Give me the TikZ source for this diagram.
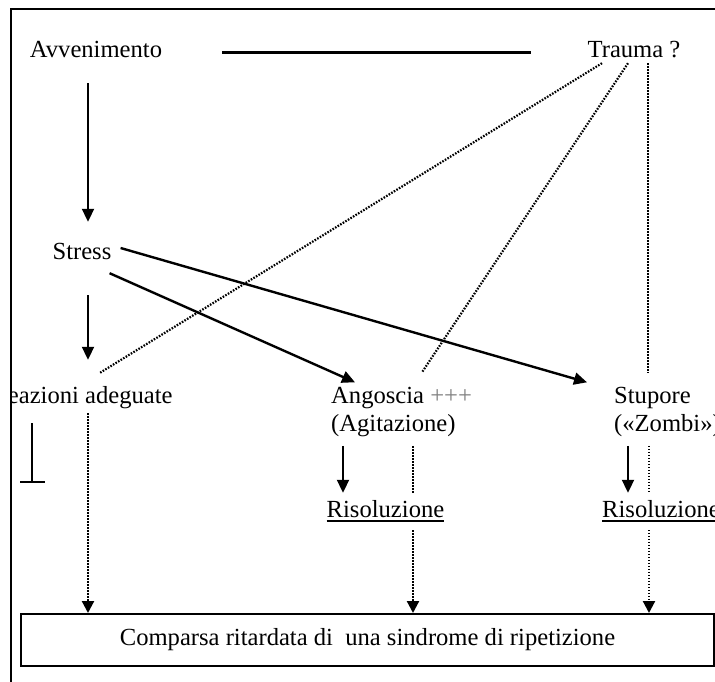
\documentclass[tikz,border=0pt]{standalone}
\usepackage{fontspec}
\setmainfont{Liberation Serif}
\usetikzlibrary{arrows.meta,backgrounds}
\definecolor{plusgray}{HTML}{808080}

\newcommand{\risline}[1]{\vtop{\hbox{#1}\kern3pt\hrule height 2pt}}

\begin{document}
\begin{tikzpicture}[
  x=1pt, y=-1pt,
  lbl/.style={font=\fontsize{24.6pt}{28pt}\selectfont, inner sep=0pt,
              text height=16pt, text depth=5pt, anchor=base},
  twoline/.style={font=\fontsize{24.6pt}{28pt}\selectfont, inner sep=0pt,
              align=left, anchor=north west},
  ris/.style={lbl, fill=white, inner ysep=8pt},
  outcome/.style={draw, line width=2pt, font=\fontsize{24.6pt}{28pt}\selectfont,
              text height=16pt, text depth=5pt, minimum width=693pt, minimum height=52pt},
  arr/.style={-{Triangle[length=13pt,width=12pt]}, line width=2pt},
  dotline/.style={line width=2.2pt, dash pattern=on 1.6pt off 1.4pt},
  darr/.style={dotline, -{Triangle[length=12pt,width=12pt]}}
]
  \useasboundingbox (0,0) rectangle (715,682);
  \draw[line width=1.5pt] (11,682) -- (11,9) -- (715,9);

  \node[lbl] (avv) at (96,58) {Avvenimento};
  \node[lbl] (trauma) at (634,58) {Trauma ?};
  \node[lbl] (stress) at (82,259) {Stress};
  \begin{scope}
    \clip (12,0) rectangle (715,682);
    \node[lbl] (reaz) at (82,403) {Reazioni adeguate};
  \end{scope}
  \node[twoline] (ango) at (331,387.3) {Angoscia \textcolor{plusgray}{+++}\\(Agitazione)};
  \node[twoline] (stup) at (614,387.3) {Stupore\\(«Zombi»)};
  \node[ris] (ris1) at (385.5,517) {\risline{Risoluzione}};
  \node[ris] (ris2) at (661,517) {\risline{Risoluzione}};
  \node[outcome] (rip) at (367.5,640) {Comparsa ritardata di~ una sindrome di ripetizione};

  % inhibition mark
  \coordinate (inh) at (32,423);
  \draw[line width=2pt, -{Bar[width=25pt]}] (inh) -- ++(0,60);

  \draw[line width=2.7pt, shorten <=60pt, shorten >=56pt] (avv.east) -- (trauma.west);
  \draw[arr, shorten <=20pt, shorten >=21pt] ([xshift=-8pt]avv.south) -- ([xshift=6pt]stress.north);
  \draw[arr, shorten <=31pt, shorten >=27pt] ([xshift=6pt]stress.south) -- ([xshift=6pt]reaz.north);
  \draw[arr, line width=2.4pt] ([shift={(-2,9)}]stress.south east) -- ([shift={(24,-5)}]ango.north west);
  \draw[arr, line width=2.4pt] ([shift={(9,-5.5)}]stress.east) -- ([shift={(-27,-5)}]stup.north west);
  \draw[arr, shorten <=8.6pt] ([xshift=12pt]ango.south west) -- ([xshift=-42.5pt]ris1.north);
  \draw[arr, shorten <=8.6pt] ([xshift=14pt]stup.south west) -- ([xshift=-33pt]ris2.north);

  \begin{scope}[on background layer]
    \draw[dotline] ([xshift=-32pt]trauma.south) -- ([shift={(18,-14)}]reaz.north);
    \draw[dotline] ([xshift=-6pt]trauma.south) -- ([shift={(91,-15)}]ango.north west);
    \draw[dotline] ([xshift=14pt]trauma.south) -- ([shift={(34,-15)}]stup.north west);
    \draw[darr, shorten <=5pt] ([xshift=6pt]reaz.south) -- ([xshift=-279.5pt]rip.north);
    \draw[darr, shorten <=8.6pt] ([xshift=82pt]ango.south west) -- ([xshift=45.5pt]rip.north);
    \draw[darr, shorten <=8.6pt] ([xshift=35pt]stup.south west) -- ([xshift=281.5pt]rip.north);
  \end{scope}
\end{tikzpicture}
\end{document}
